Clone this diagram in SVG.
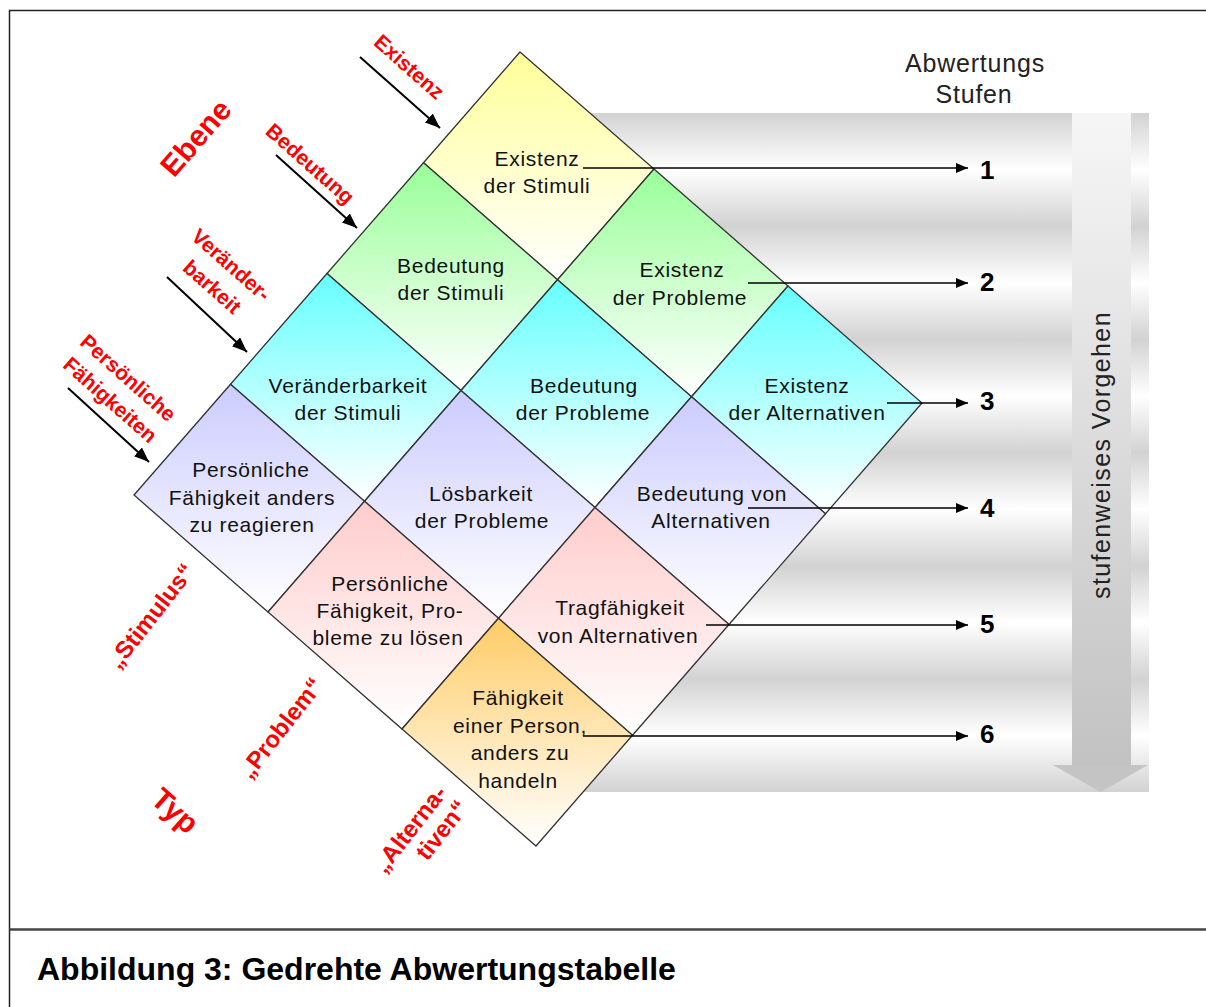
<svg xmlns="http://www.w3.org/2000/svg" width="1206" height="1007" viewBox="0 0 1206 1007">
<defs>
  <linearGradient id="stripes" gradientUnits="userSpaceOnUse" x1="0" y1="113" x2="0" y2="226.2" spreadMethod="repeat">
    <stop offset="0" stop-color="#d2d2d2"/>
    <stop offset="0.5" stop-color="#ffffff"/>
    <stop offset="1" stop-color="#d2d2d2"/>
  </linearGradient>
  <linearGradient id="shaft" x1="0" y1="0" x2="0" y2="1">
    <stop offset="0" stop-color="#f6f6f6"/>
    <stop offset="1" stop-color="#c2c2c2"/>
  </linearGradient>
  <linearGradient id="gY" x1="0" y1="0" x2="0" y2="1"><stop offset="0" stop-color="#ffff99"/><stop offset="1" stop-color="#ffffff"/></linearGradient>
  <linearGradient id="gG" x1="0" y1="0" x2="0" y2="1"><stop offset="0" stop-color="#99ff99"/><stop offset="1" stop-color="#ffffff"/></linearGradient>
  <linearGradient id="gC" x1="0" y1="0" x2="0" y2="1"><stop offset="0" stop-color="#66ffff"/><stop offset="1" stop-color="#ffffff"/></linearGradient>
  <linearGradient id="gL" x1="0" y1="0" x2="0" y2="1"><stop offset="0" stop-color="#ccccff"/><stop offset="1" stop-color="#ffffff"/></linearGradient>
  <linearGradient id="gP" x1="0" y1="0" x2="0" y2="1"><stop offset="0" stop-color="#ffcccc"/><stop offset="1" stop-color="#ffffff"/></linearGradient>
  <linearGradient id="gO" x1="0" y1="0" x2="0" y2="1"><stop offset="0" stop-color="#ffcc66"/><stop offset="1" stop-color="#ffffff"/></linearGradient>
  <marker id="ah" viewBox="0 0 12 10" refX="12" refY="5" markerWidth="12" markerHeight="10" markerUnits="userSpaceOnUse" orient="auto">
    <path d="M0,0 L12,5 L0,10 z" fill="#000"/>
  </marker>
  <marker id="ahd" viewBox="0 0 15 12" refX="15" refY="6" markerWidth="15" markerHeight="12" markerUnits="userSpaceOnUse" orient="auto">
    <path d="M0,0 L15,6 L0,12 z" fill="#000"/>
  </marker>
</defs>
<style>
  .cell { stroke: #333333; stroke-width: 1.3; }
  .ct { font-family: "Liberation Sans", Arial, sans-serif; font-size: 21px; letter-spacing: 0.7px; fill: #111111; text-anchor: middle; }
  .red { font-family: "Liberation Sans", Arial, sans-serif; font-weight: bold; font-size: 21px; fill: #ff0000; text-anchor: middle; }
  .redb { font-family: "Liberation Sans", Arial, sans-serif; font-weight: bold; font-size: 24px; fill: #ff0000; text-anchor: middle; }
  .redbig { font-family: "Liberation Sans", Arial, sans-serif; font-weight: bold; font-size: 30px; fill: #ff0000; text-anchor: middle; }
  .num { font-family: "Liberation Sans", Arial, sans-serif; font-weight: bold; font-size: 26px; fill: #000000; }
  .hdr { font-family: "Liberation Sans", Arial, sans-serif; font-size: 25px; letter-spacing: 0.8px; fill: #222222; text-anchor: middle; }
  .lvl { stroke: #000000; stroke-width: 1.5; fill: none; marker-end: url(#ah); }
  .dia { stroke: #000000; stroke-width: 2; fill: none; marker-end: url(#ahd); }
</style>

<!-- frame -->
<rect x="9.5" y="10.5" width="1210" height="1010" fill="#ffffff" stroke="#222222" stroke-width="1.5"/>
<line x1="9.5" y1="929.5" x2="1206" y2="929.5" stroke="#444444" stroke-width="2.5"/>

<!-- striped background and process arrow -->
<g id="background">
  <rect x="560" y="113" width="589" height="679" fill="url(#stripes)"/>
</g>
<g id="process-arrow">
  <rect x="1072" y="113" width="59" height="653" fill="url(#shaft)"/>
  <path d="M1053,765 L1148,765 L1100.5,792 z" fill="#c4c4c4"/>
  <text class="hdr" transform="translate(1110,455) rotate(-90)" style="letter-spacing:1.4px">stufenweises Vorgehen</text>
</g>

<g id="header">
  <text class="hdr" x="975" y="72">Abwertungs</text>
  <text class="hdr" x="974" y="103">Stufen</text>
</g>

<!-- cells -->
<g id="c00"><polygon class="cell" fill="url(#gY)" points="520,52 654,169 557.5,279.75 423.5,162.75"/>
  <text class="ct" x="537" y="166">Existenz</text><text class="ct" x="537" y="193">der Stimuli</text></g>
<g id="c10"><polygon class="cell" fill="url(#gG)" points="423.5,162.75 557.5,279.75 461,390.5 327,273.5"/>
  <text class="ct" x="451" y="273">Bedeutung</text><text class="ct" x="451" y="300">der Stimuli</text></g>
<g id="c01"><polygon class="cell" fill="url(#gG)" points="654,169 788,286 691.5,396.75 557.5,279.75"/>
  <text class="ct" x="682" y="277">Existenz</text><text class="ct" x="680" y="305">der Probleme</text></g>
<g id="c20"><polygon class="cell" fill="url(#gC)" points="327,273.5 461,390.5 364.5,501.25 230.5,384.25"/>
  <text class="ct" x="348" y="393">Veränderbarkeit</text><text class="ct" x="348" y="420">der Stimuli</text></g>
<g id="c11"><polygon class="cell" fill="url(#gC)" points="557.5,279.75 691.5,396.75 595,507.5 461,390.5"/>
  <text class="ct" x="584" y="393">Bedeutung</text><text class="ct" x="583" y="420">der Probleme</text></g>
<g id="c02"><polygon class="cell" fill="url(#gC)" points="788,286 922,403 825.5,513.75 691.5,396.75"/>
  <text class="ct" x="807" y="393">Existenz</text><text class="ct" x="807" y="420">der Alternativen</text></g>
<g id="c30"><polygon class="cell" fill="url(#gL)" points="230.5,384.25 364.5,501.25 268,612 134,495"/>
  <text class="ct" x="251" y="477">Persönliche</text><text class="ct" x="252" y="505">Fähigkeit anders</text><text class="ct" x="252" y="532">zu reagieren</text></g>
<g id="c21"><polygon class="cell" fill="url(#gL)" points="461,390.5 595,507.5 498.5,618.25 364.5,501.25"/>
  <text class="ct" x="481" y="501">Lösbarkeit</text><text class="ct" x="482" y="528">der Probleme</text></g>
<g id="c12"><polygon class="cell" fill="url(#gL)" points="691.5,396.75 825.5,513.75 729,624.5 595,507.5"/>
  <text class="ct" x="712" y="501">Bedeutung von</text><text class="ct" x="711" y="528">Alternativen</text></g>
<g id="c31"><polygon class="cell" fill="url(#gP)" points="364.5,501.25 498.5,618.25 402,729 268,612"/>
  <text class="ct" x="390" y="591">Persönliche</text><text class="ct" x="390" y="618">Fähigkeit, Pro-</text><text class="ct" x="388" y="645">bleme zu lösen</text></g>
<g id="c22"><polygon class="cell" fill="url(#gP)" points="595,507.5 729,624.5 632.5,735.25 498.5,618.25"/>
  <text class="ct" x="620" y="615">Tragfähigkeit</text><text class="ct" x="618" y="643">von Alternativen</text></g>
<g id="c32"><polygon class="cell" fill="url(#gO)" points="498.5,618.25 632.5,735.25 536,846 402,729"/>
  <text class="ct" x="518" y="705">Fähigkeit</text><text class="ct" x="520" y="733">einer Person,</text><text class="ct" x="520" y="760">anders zu</text><text class="ct" x="518" y="788">handeln</text></g>

<!-- connectors -->
<g id="connectors">
  <line class="lvl" x1="583" y1="168" x2="968" y2="168"/>
  <line class="lvl" x1="748" y1="283" x2="968" y2="283"/>
  <line class="lvl" x1="887" y1="403" x2="968" y2="403"/>
  <line class="lvl" x1="748" y1="508" x2="968" y2="508"/>
  <line class="lvl" x1="706" y1="625" x2="968" y2="625"/>
  <line class="lvl" x1="583" y1="736" x2="968" y2="736"/>
  <line class="dia" x1="360" y1="57" x2="440" y2="128"/>
  <line class="dia" x1="276" y1="155" x2="357" y2="228"/>
  <line class="dia" x1="167" y1="277" x2="247" y2="352"/>
  <line class="dia" x1="68" y1="388" x2="149" y2="462"/>
</g>

<!-- level numbers -->
<g id="levels">
  <text class="num" x="980" y="179">1</text>
  <text class="num" x="980" y="291">2</text>
  <text class="num" x="980" y="410">3</text>
  <text class="num" x="980" y="517">4</text>
  <text class="num" x="980" y="633">5</text>
  <text class="num" x="980" y="743">6</text>
</g>

<!-- red labels: Ebene -->
<g id="ebene-labels">
  <text class="redbig" transform="translate(196,138) rotate(-49)" y="10">Ebene</text>
  <text class="red" transform="translate(409,67) rotate(41.5)" y="7">Existenz</text>
  <text class="red" transform="translate(310,164) rotate(41.5)" y="7">Bedeutung</text>
  <text class="red" transform="translate(231,265) rotate(41.5)" y="7">Veränder-</text>
  <text class="red" transform="translate(212,287) rotate(41.5)" y="7">barkeit</text>
  <text class="red" transform="translate(128,378) rotate(41.5)" y="7">Persönliche</text>
  <text class="red" transform="translate(110,400) rotate(41.5)" y="7">Fähigkeiten</text>
</g>

<!-- red labels: Typ -->
<g id="typ-labels">
  <text class="redbig" transform="translate(175,811) rotate(41.5)" y="10">Typ</text>
  <text class="redb" transform="translate(151,616) rotate(-52)" y="8">„Stimulus“</text>
  <text class="redb" transform="translate(281,728) rotate(-52)" y="8">„Problem“</text>
  <text class="redb" transform="translate(410,829) rotate(-52)" y="8">„Alterna-</text>
  <text class="redb" transform="translate(442,830) rotate(-52)" y="8">tiven“</text>
</g>

<g id="caption">
  <text x="37" y="980" font-family="Liberation Sans, Arial, sans-serif" font-weight="bold" font-size="32" fill="#000000">Abbildung 3: Gedrehte Abwertungstabelle</text>
</g>
</svg>
